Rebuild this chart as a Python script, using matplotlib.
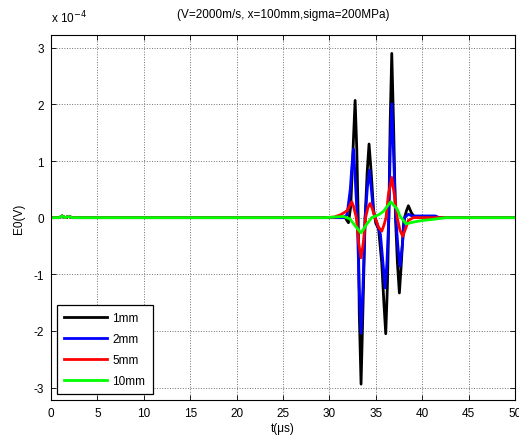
import numpy as np
import matplotlib
matplotlib.use("Agg")
import matplotlib.pyplot as plt
from matplotlib.ticker import FuncFormatter

plt.rcParams['font.family'] = ['Liberation Sans', 'DejaVu Sans']

# signal values in units of 1e-4 V
t_1mm = [0, 0.9, 1.2, 1.5, 1.9, 2.3, 29.5, 31.2, 31.7, 32.05, 32.3, 32.57, 32.77, 32.95,
         33.1, 33.22, 33.41, 33.6, 33.85, 34.07, 34.27, 34.5, 34.75, 35.0, 35.3, 35.64,
         35.87, 36.07, 36.25, 36.4, 36.55, 36.72, 36.92, 37.12, 37.33, 37.54, 37.75,
         38.02, 38.3, 38.51, 38.85, 39.23, 40.0, 41.4, 41.8, 50]
v_1mm = [0, 0, 0.03, 0, 0.02, 0, 0, 0, 0, -0.09, 0.2, 1.3, 2.07, 1.2,
         0.0, -1.7, -2.94, -1.7, 0.0, 0.8, 1.30, 0.8, 0.15, -0.1, -0.2, -0.8,
         -1.5, -2.05, -1.2, 0.0, 1.7, 2.90, 1.6, 0.0, -0.8, -1.33, -0.8,
         -0.05, 0.12, 0.21, 0.08, 0.0, 0.02, 0.02, 0, 0]

t_2mm = [0, 0.9, 1.2, 1.5, 1.9, 2.3, 29.5, 31.5, 31.9, 32.25, 32.42, 32.59, 32.78, 33.0,
         33.2, 33.41, 33.62, 33.85, 34.1, 34.31, 34.52, 34.75, 35.1, 35.5, 35.8, 36.0,
         36.2, 36.4, 36.55, 36.72, 36.92, 37.15, 37.4, 37.61, 37.85, 38.1, 38.51, 38.9,
         41.4, 41.8, 50]
v_2mm = [0, 0, 0.03, 0, 0.02, 0, 0, 0, 0.05, 0.5, 0.9, 1.21, 0.7, 0.0,
         -1.2, -2.04, -1.2, 0.0, 0.55, 0.84, 0.5, 0.1, -0.09, -0.3, -0.85, -1.24,
         -0.8, 0.0, 1.2, 2.01, 1.1, 0.0, -0.55, -0.86, -0.5, 0.0, 0.06, 0.03,
         0.03, 0, 0]

t_5mm = [0, 0.9, 1.2, 1.5, 1.9, 2.3, 29.5, 30.5, 31.2, 31.9, 32.22, 32.41, 32.6, 32.9,
         33.15, 33.41, 33.65, 33.9, 34.15, 34.38, 34.6, 34.92, 35.3, 35.64, 35.9, 36.1,
         36.35, 36.72, 37.0, 37.3, 37.6, 37.9, 38.2, 38.5, 39.05, 50]
v_5mm = [0, 0, 0.03, 0, 0.02, 0, 0, 0.01, 0.05, 0.12, 0.22, 0.28, 0.2, 0.0,
         -0.45, -0.71, -0.45, 0.0, 0.18, 0.25, 0.17, 0.0, -0.17, -0.24, -0.12, 0.0,
         0.4, 0.71, 0.4, 0.0, -0.22, -0.33, -0.2, -0.05, 0.0, 0]

t_10mm = [0, 0.9, 1.2, 1.5, 1.9, 2.3, 29.5, 30.5, 31.5, 32.2, 32.8, 33.41, 34.0, 34.56,
          35.3, 35.82, 36.61, 37.3, 37.6, 38.26, 39.0, 40.0, 41.2, 42.5, 50]
v_10mm = [0, 0, 0.03, 0, 0.02, 0, 0, 0.01, 0.02, -0.02, -0.15, -0.27, -0.12, 0.0,
          0.05, 0.11, 0.28, 0.15, 0.03, -0.11, -0.08, -0.05, -0.03, 0, 0]

labels = ['1mm', '2mm', '5mm', '10mm']
colors = ['k', 'b', 'r', '#00ff00']

fig = plt.figure(figsize=(5.19, 4.39), dpi=100)
ax = fig.add_axes([0.0983, 0.0866, 0.894, 0.832])

series = [(t_1mm, v_1mm), (t_2mm, v_2mm), (t_5mm, v_5mm), (t_10mm, v_10mm)]
for (t, v), lab, c in zip(series, labels, colors):
    ax.plot(t, np.array(v) * 1e-4, color=c, lw=2.0, label=lab)

ax.set_xlim(0, 50)
ax.set_ylim(-3.22e-4, 3.23e-4)
ax.set_xticks(np.arange(0, 51, 5))
ax.set_yticks(np.arange(-3, 4) * 1e-4)
ax.yaxis.set_major_formatter(FuncFormatter(lambda y, p: '%d' % round(y / 1e-4)))
ax.tick_params(direction='in', top=True, right=True, length=3.5, width=0.6,
               labelsize=8.5, pad=5)
ax.grid(True, linestyle=':', color='0.45', lw=0.7)
for s in ax.spines.values():
    s.set_linewidth(0.8)

ax.text(0.0, 1.025, r'x 10$^{-4}$', transform=ax.transAxes, fontsize=8.5,
        ha='left', va='bottom')
ax.set_title('(V=2000m/s, x=100mm,sigma=200MPa)', fontsize=8.5, pad=13)
ax.set_xlabel('t(μs)', fontsize=8.5, labelpad=2)
ax.set_ylabel('E0(V)', fontsize=8.5, labelpad=6)

leg = ax.legend(loc='lower left', bbox_to_anchor=(0.013, 0.016), borderaxespad=0,
                fancybox=False, edgecolor='k', fontsize=8.5, handlelength=3.6,
                labelspacing=0.75, borderpad=0.6, handletextpad=0.5, framealpha=1)
leg.get_frame().set_linewidth(0.9)

plt.savefig('out.png', dpi=100)
